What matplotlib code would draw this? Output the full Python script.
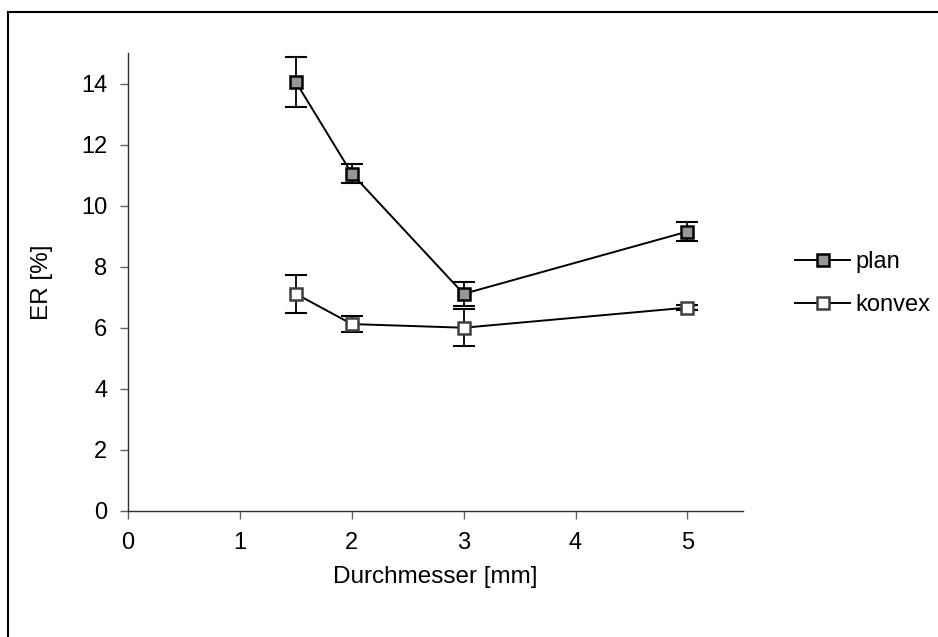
import matplotlib
matplotlib.use('Agg')
import matplotlib.pyplot as plt
from matplotlib.lines import Line2D

plt.rcParams['font.family'] = ['Liberation Sans', 'DejaVu Sans']

# Messwerte: Durchmesser [mm], ER [%] mit Standardabweichung
durchmesser = [1.5, 2, 3, 5]
er_plan = [14.05, 11.05, 7.11, 9.15]
sd_plan = [0.82, 0.32, 0.4, 0.3]
er_konvex = [7.11, 6.12, 6.0, 6.66]
sd_konvex = [0.62, 0.25, 0.6, 0.08]

fig = plt.figure(figsize=(9.38, 6.37), dpi=100)
ax = fig.add_axes([0.1365, 0.198, 0.656, 0.7188])

# Fehlerbalken unter den Markern
ax.errorbar(durchmesser, er_plan, yerr=sd_plan, fmt='none', ecolor='black',
            elinewidth=1.3, capsize=8, capthick=1.5, zorder=2)
ax.errorbar(durchmesser, er_konvex, yerr=sd_konvex, fmt='none', ecolor='black',
            elinewidth=1.3, capsize=8, capthick=1.5, zorder=2)

ax.plot(durchmesser, er_plan, color='black', lw=1.4, marker='s', ms=8.5,
        mfc='#969696', mec='black', mew=1.8, zorder=3)
ax.plot(durchmesser, er_konvex, color='black', lw=1.4, marker='s', ms=8.5,
        mfc='white', mec='#404040', mew=1.8, zorder=3)

ax.set_xlim(0, 5.5)
ax.set_ylim(0, 15)
ax.set_xticks(range(0, 6))
ax.set_yticks(range(0, 15, 2))
ax.spines['top'].set_visible(False)
ax.spines['right'].set_visible(False)
for s in ('left', 'bottom'):
    ax.spines[s].set_color('#303030')
    ax.spines[s].set_linewidth(1.0)
ax.tick_params(axis='y', direction='out', length=6, width=1, color='#606060',
               labelsize=17, pad=9)
ax.tick_params(axis='x', direction='out', length=6, width=1, color='#606060',
               labelsize=17, pad=9)

ax.set_xlabel('Durchmesser [mm]', fontsize=17.5, labelpad=9)
ax.set_ylabel('ER [%]', fontsize=17.5, labelpad=20)

# Legende rechts neben dem Diagramm
handles = [
    Line2D([], [], color='black', lw=1.4, marker='s', ms=8, mfc='#969696',
           mec='black', mew=1.8),
    Line2D([], [], color='black', lw=1.4, marker='s', ms=8, mfc='white',
           mec='#404040', mew=1.8),
]
fig.legend(handles, ['plan', 'konvex'], loc='center left',
           bbox_to_anchor=(0.848, 0.555), frameon=False, fontsize=17,
           handlelength=2.3, handletextpad=0.25, labelspacing=0.9,
           borderaxespad=0, borderpad=0)

# Rahmen (nur oben und links sichtbar)
fig.add_artist(Line2D([8 / 938, 8 / 938], [0, 1 - 12 / 637],
                      transform=fig.transFigure, color='black', lw=1.5))
fig.add_artist(Line2D([8 / 938, 1], [1 - 12 / 637, 1 - 12 / 637],
                      transform=fig.transFigure, color='black', lw=1.5))

fig.savefig('out.png', dpi=100, facecolor='white')
